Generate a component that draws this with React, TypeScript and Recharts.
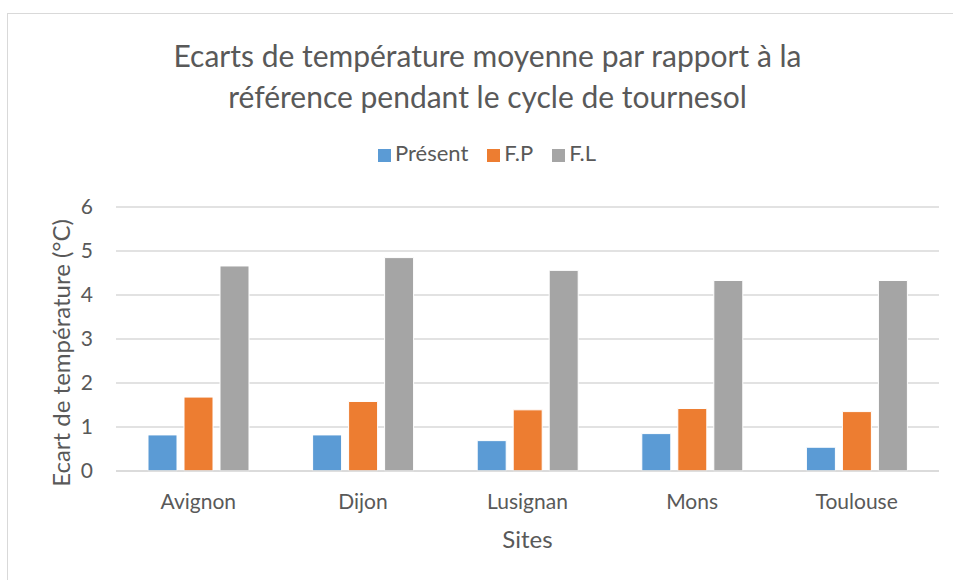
import { BarChart, Bar, XAxis, YAxis, CartesianGrid, Legend, Label } from 'recharts';

const sites = ['Avignon', 'Dijon', 'Lusignan', 'Mons', 'Toulouse'];
const present = [0.82, 0.82, 0.69, 0.85, 0.54];
const futurProche = [1.68, 1.58, 1.39, 1.42, 1.35];
const futurLointain = [4.66, 4.85, 4.56, 4.33, 4.33];
const yTicks = [0, 1, 2, 3, 4, 5, 6];
const seriesNames = ['Présent', 'F.P', 'F.L'];

const data = sites.map((site, i) => ({
    site,
    present: present[i],
    fp: futurProche[i],
    fl: futurLointain[i],
}));

const FONT = 'Lato, "Open Sans", sans-serif';
const TEXT = '#595959';

const App = () => {
    return (
        <div
            style={{
                position: 'absolute',
                left: 0,
                top: 0,
                width: 953,
                height: 580,
                overflow: 'hidden',
                background: '#fff',
                fontFamily: FONT,
            }}
        >
            <div
                style={{
                    position: 'absolute',
                    left: 7,
                    top: 13,
                    width: 1000,
                    height: 600,
                    borderLeft: '1.5px solid #d9d9d9',
                    borderTop: '1.5px solid #d9d9d9',
                }}
            />
            <div
                style={{
                    position: 'absolute',
                    left: 11,
                    top: 35,
                    width: 953,
                    textAlign: 'center',
                    color: TEXT,
                    fontSize: 30,
                    lineHeight: '41px',
                }}
            >
                Ecarts de température moyenne par rapport à la
                <br />
                référence pendant le cycle de tournesol
            </div>
            <BarChart
                width={953}
                height={580}
                data={data}
                margin={{ top: 180, right: 14, bottom: 0, left: 0 }}
                barSize={29}
                barGap={7}
                style={{ position: 'absolute', left: 0, top: 0 }}
            >
                <CartesianGrid vertical={false} stroke="#d9d9d9" strokeWidth={1.5} />
                <XAxis
                    dataKey="site"
                    height={109}
                    axisLine={{ stroke: '#d9d9d9', strokeWidth: 1.5 }}
                    tickLine={false}
                    tickSize={0}
                    tickMargin={23}
                    tick={{ fill: TEXT, fontSize: 21, fontFamily: FONT }}
                >
                    <Label
                        content={({ viewBox }: any) => (
                            <text
                                x={viewBox.x + viewBox.width / 2}
                                y={viewBox.y + 77}
                                textAnchor="middle"
                                fill={TEXT}
                                fontSize={24}
                                fontFamily={FONT}
                            >
                                Sites
                            </text>
                        )}
                    />
                </XAxis>
                <YAxis
                    width={116}
                    domain={[0, 6]}
                    ticks={yTicks}
                    axisLine={false}
                    tickLine={false}
                    tickSize={0}
                    tickMargin={23}
                    tick={{ fill: TEXT, fontSize: 21, fontFamily: FONT }}
                >
                    <Label
                        content={({ viewBox }: any) => {
                            const cy = viewBox.y + viewBox.height / 2 + 14;
                            return (
                                <text
                                    x={60}
                                    y={cy}
                                    transform={`rotate(-90, 60, ${cy})`}
                                    textAnchor="middle"
                                    dominantBaseline="central"
                                    fill={TEXT}
                                    fontSize={24}
                                    fontFamily={FONT}
                                >
                                    Ecart de température (°C)
                                </text>
                            );
                        }}
                    />
                </YAxis>
                <Legend
                    verticalAlign="top"
                    align="center"
                    iconType="square"
                    iconSize={13}
                    itemSorter={(item: any) => seriesNames.indexOf(item.value)}
                    wrapperStyle={{ top: 139, left: 20, width: 953, fontSize: 22, fontFamily: FONT }}
                    formatter={(value: string) => (
                        <span style={{ color: TEXT, marginRight: 9 }}>{value}</span>
                    )}
                />
                <Bar dataKey="present" name="Présent" fill="#5b9bd5" stroke="#fff" strokeWidth={1} isAnimationActive={false} />
                <Bar dataKey="fp" name="F.P" fill="#ed7d31" stroke="#fff" strokeWidth={1} isAnimationActive={false} />
                <Bar dataKey="fl" name="F.L" fill="#a5a5a5" stroke="#fff" strokeWidth={1} isAnimationActive={false} />
            </BarChart>
        </div>
    );
};

export default App;
